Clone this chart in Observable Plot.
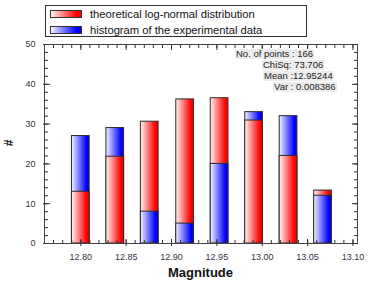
<!DOCTYPE html>
<html><head><meta charset="utf-8">
<script src="https://cdn.jsdelivr.net/npm/d3@7"></script>
<script src="https://cdn.jsdelivr.net/npm/@observablehq/plot@0.6"></script>
<style>
body{margin:0;background:#fff;font-family:"Liberation Sans",Arial,sans-serif}
#wrap{position:relative;width:374px;height:286px;overflow:hidden}
#wrap svg{position:absolute;left:0;top:0}
.legend{position:absolute;left:45px;top:5px;width:260px;height:30px;border:1px solid #333;background:#fff;font-size:11.2px;color:#111}
.legend .row{position:absolute;left:4px;height:12px;line-height:12px;white-space:nowrap}
.legend .sw{display:inline-block;width:30px;height:6px;border:1px solid #333;vertical-align:middle;margin-right:8px;position:relative;top:-1px}
.stat{position:absolute;font-size:9.5px;line-height:10px;background:#ececec;color:#222;padding:0 1px;white-space:nowrap}
.ylab{position:absolute;left:6px;top:136px;font-weight:bold;font-size:12px;transform:rotate(-90deg);color:#111}
.xlab{position:absolute;left:0;width:401px;text-align:center;top:265px;font-weight:bold;font-size:13px;color:#111}
</style></head><body><div id="wrap"></div>
<script>
const binCenters = [12.800, 12.838, 12.876, 12.915, 12.953, 12.991, 13.029, 13.067];
const theoretical = [13.0, 21.8, 30.6, 36.2, 36.5, 30.9, 22.0, 13.3];
const experimental = [27, 29, 8, 5, 20, 33, 32, 12];
const xTicks = [12.80, 12.85, 12.90, 12.95, 13.00, 13.05, 13.10];
const yTicks = [0, 10, 20, 30, 40, 50];
const seriesNames = ["theoretical log-normal distribution", "histogram of the experimental data"];
const statLines = ["No. of points : 166", "ChiSq: 73.706", "Mean :12.95244", "Var : 0.008386"];
const axisTitles = ["Magnitude", "#"];

const barHalf = 0.00975;
const rows = [];
const back = [], front = [];
binCenters.forEach((c, i) => {
  const t = {x1: c - barHalf, x2: c + barHalf, value: theoretical[i], series: seriesNames[0]};
  const e = {x1: c - barHalf, x2: c + barHalf, value: experimental[i], series: seriesNames[1]};
  if (t.value >= e.value) { back.push(t); front.push(e); } else { back.push(e); front.push(t); }
});
rows.push(...back, ...front);

const yMinor = d3.range(0, 50.01, 2);
const xMinor = d3.range(12.77, 13.105, 0.01).map(v => +v.toFixed(2));

const chart = Plot.plot({
  width: 374, height: 286,
  marginLeft: 44, marginRight: 17, marginTop: 44, marginBottom: 43,
  x: {domain: [12.76, 13.105]},
  y: {domain: [0, 50]},
  color: {type: "ordinal", domain: seriesNames, range: ["url(#gR)", "url(#gB)"]},
  style: {fontFamily: "Liberation Sans, Arial, sans-serif", fontSize: "9px", color: "#333", background: "transparent"},
  marks: [
    Plot.rect(rows, {x1: "x1", x2: "x2", y1: 0, y2: "value", fill: "series", stroke: "#2a2a2a", strokeWidth: 1}),
    Plot.frame({stroke: "#444"}),
    Plot.axisY(yTicks, {anchor: "left", tickSize: 0, tickPadding: 9, label: null, fill: "#333"}),
    Plot.axisY(yTicks, {anchor: "left", tickSize: -6, fill: "none", label: null, stroke: "#333"}),
    Plot.axisY(yTicks, {anchor: "left", tickSize: 1, fill: "none", label: null, stroke: "#333"}),
    Plot.axisY(yMinor, {anchor: "left", tickSize: -4, fill: "none", label: null, stroke: "#333"}),
    Plot.axisY(yTicks, {anchor: "right", tickSize: -6, fill: "none", label: null, stroke: "#333"}),
    Plot.axisY(yMinor, {anchor: "right", tickSize: -4, fill: "none", label: null, stroke: "#333"}),
    Plot.axisX(xTicks, {anchor: "bottom", tickSize: 0, tickPadding: 10, label: null, fill: "#334", tickFormat: d => d.toFixed(2)}),
    Plot.axisX(xTicks, {anchor: "bottom", tickSize: -4, fill: "none", label: null, stroke: "#333"}),
    Plot.axisX(xTicks, {anchor: "bottom", tickSize: 3, fill: "none", label: null, stroke: "#333"}),
    Plot.axisX(xMinor, {anchor: "bottom", tickSize: -3, fill: "none", label: null, stroke: "#333"}),
    Plot.axisX(xTicks, {anchor: "top", tickSize: -5, fill: "none", label: null, stroke: "#333"}),
    Plot.axisX(xMinor, {anchor: "top", tickSize: -3, fill: "none", label: null, stroke: "#333"})
  ]
});
chart.insertAdjacentHTML("afterbegin",
  `<defs>
    <linearGradient id="gR" x1="0" y1="0" x2="1" y2="0"><stop offset="0" stop-color="#fff4f4"/><stop offset="0.85" stop-color="#ff0000"/><stop offset="1" stop-color="#ff0000"/></linearGradient>
    <linearGradient id="gB" x1="0" y1="0" x2="1" y2="0"><stop offset="0" stop-color="#f4f4ff"/><stop offset="0.85" stop-color="#0000ff"/><stop offset="1" stop-color="#0000ff"/></linearGradient>
  </defs>`);
const wrap = document.getElementById("wrap");
wrap.appendChild(chart);

const legend = document.createElement("div");
legend.className = "legend";
const swatchCss = ["linear-gradient(to right,#fff4f4,#ff0000 85%)", "linear-gradient(to right,#f4f4ff,#0000ff 85%)"];
seriesNames.forEach((name, i) => {
  const row = document.createElement("div");
  row.className = "row";
  row.style.top = (2 + i * 16) + "px";
  const sw = document.createElement("span");
  sw.className = "sw";
  sw.style.background = swatchCss[i];
  row.appendChild(sw);
  row.appendChild(document.createTextNode(name));
  legend.appendChild(row);
});
wrap.appendChild(legend);

const statLefts = [235, 262, 263, 273];
statLines.forEach((s, i) => {
  const d = document.createElement("div");
  d.className = "stat";
  d.style.left = statLefts[i] + "px";
  d.style.top = (49 + i * 11) + "px";
  d.textContent = s;
  wrap.appendChild(d);
});

const xl = document.createElement("div");
xl.className = "xlab"; xl.textContent = axisTitles[0]; wrap.appendChild(xl);
const yl = document.createElement("div");
yl.className = "ylab"; yl.textContent = axisTitles[1]; wrap.appendChild(yl);
</script>
</body></html>
